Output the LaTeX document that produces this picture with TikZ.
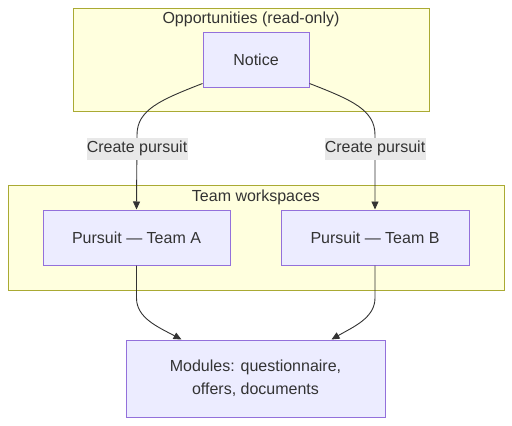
\documentclass[tikz,border=0pt]{standalone}
\usepackage{fontspec}
\setmainfont{Liberation Sans}
\usetikzlibrary{arrows.meta}
\definecolor{clfill}{HTML}{FFFFDE}
\definecolor{cldraw}{HTML}{AAAA33}
\definecolor{ndfill}{HTML}{ECECFF}
\definecolor{nddraw}{HTML}{9370DB}
\definecolor{txt}{HTML}{333333}
\definecolor{lblbg}{HTML}{E8E8E8}
\tikzset{
  cluster/.style={draw=cldraw, fill=clfill, line width=1pt, inner sep=0pt},
  box/.style={draw=nddraw, fill=ndfill, line width=1pt, inner sep=0pt, text=txt, font=\fontsize{16}{23}\selectfont, align=center},
  ctitle/.style={text=txt, font=\fontsize{16}{19}\selectfont, inner sep=0pt},
  elabel/.style={fill=lblbg, text=txt, font=\fontsize{16}{19}\selectfont, inner sep=0pt, minimum width=101pt, minimum height=22pt},
  edge/.style={draw=txt, line width=0.9pt, -{Triangle[length=8pt,width=7pt]}}
}
\begin{document}
\begin{tikzpicture}[x=1pt,y=-1pt]
\path[use as bounding box, fill=white] (0,0) rectangle (512,426);
% clusters
\node[cluster, minimum width=356pt, minimum height=103pt] (C1) at (251,59.5) {};
\node[ctitle] (T1) at (251,19) {Opportunities (read-only)};
\node[cluster, minimum width=496pt, minimum height=105pt] (C2) at (256,237.5) {};
\node[ctitle] (T2) at (256,197) {Team workspaces};
% nodes
\node[box, minimum width=106pt, minimum height=55pt] (N) at (256,59.5) {Notice};
\node[box, minimum width=187pt, minimum height=55pt] (A) at (136.5,237.5) {Pursuit — Team A};
\node[box, minimum width=188pt, minimum height=55pt] (B) at (375,237.5) {Pursuit — Team B};
\node[box, minimum width=259pt, minimum height=77pt] (M) at (255.5,378.5) {Modules: questionnaire,\\offers, documents};
% edges
\draw[edge] ([yshift=4pt]N.south west) .. controls (160,100) and (137,110) .. (137,135) -- (A.north);
\draw[edge] ([yshift=4pt]N.south east) .. controls (352,100) and (375,110) .. (375,135) -- (B.north);
\node[elabel] (L1) at (137,148.5) {Create pursuit};
\node[elabel] (L2) at (375,148.5) {Create pursuit};
\draw[edge] (A.south) -- (136.5,298) .. controls (136.5,318) and (158,327) .. ([xshift=56pt]M.north west);
\draw[edge] (B.south) -- (375,298) .. controls (375,318) and (353,327) .. ([xshift=-54pt]M.north east);
\end{tikzpicture}
\end{document}
